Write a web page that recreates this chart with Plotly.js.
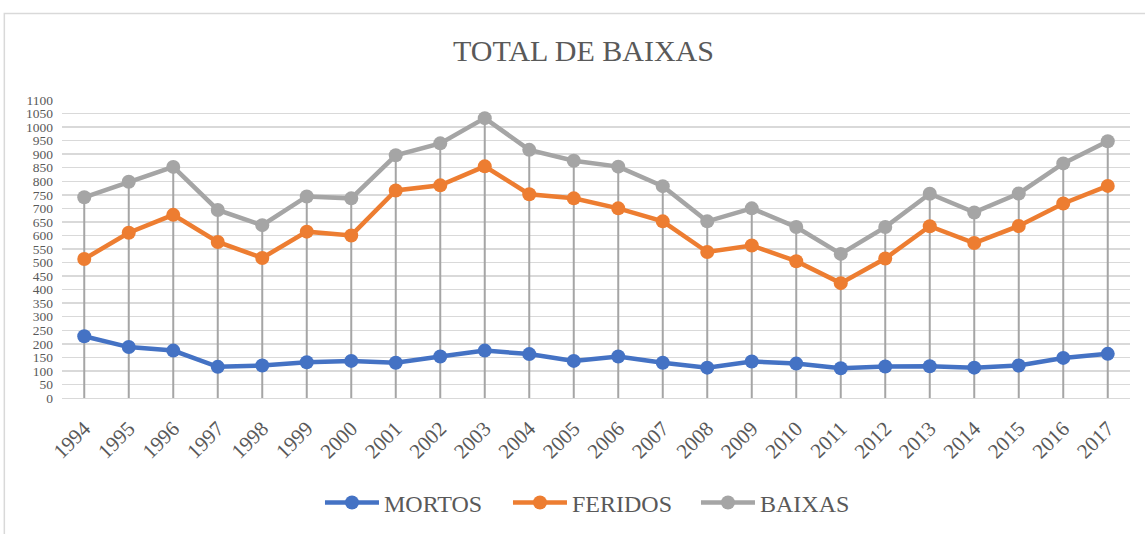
<!DOCTYPE html>
<html><head><meta charset="utf-8">
<script src="https://cdn.plot.ly/plotly-3.0.1.min.js"></script>
<style>html,body{margin:0;padding:0;background:#fff}#chart{width:1145px;height:534px}</style>
</head><body><div id="chart"></div>
<script>
const years = ["1994","1995","1996","1997","1998","1999","2000","2001","2002","2003","2004","2005","2006","2007","2008","2009","2010","2011","2012","2013","2014","2015","2016","2017"];
const mortos  = [228,188,175,115,120,132,137,130,153,175,162,137,153,130,112,135,127,110,116,117,112,120,148,163];
const feridos = [513,610,676,576,517,614,600,766,785,855,752,737,700,652,539,563,505,424,515,634,572,635,718,783];
const baixas  = [741,798,853,694,638,744,737,896,940,1033,916,876,854,782,652,700,631,532,631,754,685,755,866,948];
const yTicks = [0,50,100,150,200,250,300,350,400,450,500,550,600,650,700,750,800,850,900,950,1000,1050,1100];

const font = "Liberation Serif";
const mk = (name, y, color, extra) => Object.assign({
  type:'scatter', mode:'lines+markers', name, x: years, y,
  line:{color, width:4.5}, marker:{color, size:14},
  cliponaxis:false, hoverinfo:'x+y'
}, extra||{});

const traces = [
  Object.assign(mk('drop', baixas, 'rgba(0,0,0,0)'), {
    mode:'markers', marker:{size:0, color:'rgba(0,0,0,0)'}, showlegend:false, hoverinfo:'skip',
    error_y:{type:'data', symmetric:false, array: baixas.map(()=>0), arrayminus: baixas, color:'#A5A5A5', thickness:2, width:0}
  }),
  mk('MORTOS', mortos, '#4472C4'),
  mk('FERIDOS', feridos, '#ED7D31'),
  mk('BAIXAS', baixas, '#A5A5A5')
];

const layout = {
  width:1145, height:534,
  paper_bgcolor:'#fff', plot_bgcolor:'#fff',
  font:{family:font},
  margin:{l:62, r:15, t:100, b:136, autoexpand:false},
  title:{text:'TOTAL DE BAIXAS', x:0.5096, xanchor:'center', y:0.905, yanchor:'middle',
    font:{family:font, size:30, color:'#595959'}},
  xaxis:{type:'category', range:[-0.5,23.5], tickangle:-45, showgrid:false, zeroline:false, automargin:false,
    showline:true, linecolor:'#D9D9D9', linewidth:1, ticks:'', ticklabelstandoff:9,
    tickfont:{family:font, size:21, color:'#595959'}, fixedrange:true},
  yaxis:{range:[0,1100], tickvals:yTicks, ticktext:yTicks.map(String), showgrid:true, gridcolor:'#D9D9D9', automargin:false,
    gridwidth:1.5, zeroline:false, showline:false, ticks:'', ticklabelstandoff:8,
    tickfont:{family:font, size:13.5, color:'#595959'}, fixedrange:true},
  showlegend:true,
  legend:{orientation:'h', x:0.5056, xanchor:'center', y:-0.352, yanchor:'middle',
    font:{family:font, size:24, color:'#595959'}, itemwidth:54, entrywidth:119, traceorder:'normal', itemclick:false},
  shapes:[{type:'rect', xref:'paper', yref:'paper', x0:-0.054, x1:1.1, y0:-0.5, y1:1.29,
    line:{color:'#D9D9D9', width:1.5}, fillcolor:'rgba(0,0,0,0)', layer:'below'}]
};
Plotly.newPlot('chart', traces, layout, {displayModeBar:false, staticPlot:true});
</script></body></html>
